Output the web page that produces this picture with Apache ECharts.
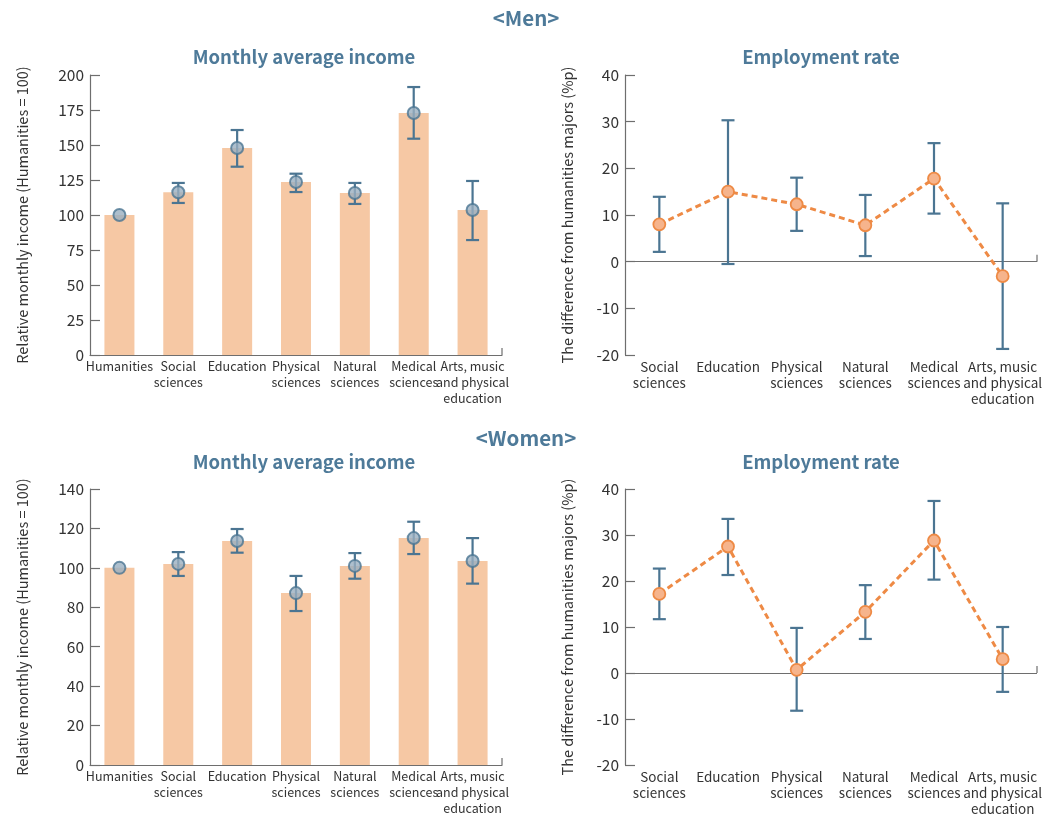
<!DOCTYPE html>
<html><head><meta charset="utf-8">
<script src="https://cdn.jsdelivr.net/npm/echarts@6/dist/echarts.min.js"></script>
<style>html,body{margin:0;padding:0;background:#fff}#c{width:1053px;height:817px}</style>
</head><body><div id="c"></div>
<script>
const incomeCats = ['Humanities','Social\nsciences','Education','Physical\nsciences','Natural\nsciences','Medical\nsciences','Arts, music\nand physical\neducation'];
const empCats = ['Social\nsciences','Education','Physical\nsciences','Natural\nsciences','Medical\nsciences','Arts, music\nand physical\neducation'];
const incomeTicks = {men:{max:200, interval:25}, women:{max:140, interval:20}};

const menIncome = [100,116.2,147.9,123.6,115.7,172.9,103.6];
const menIncomeLow = [null,108.6,134.5,116.4,107.9,154.5,82.1];
const menIncomeHigh = [null,122.9,160.7,129.5,122.9,191.4,124.3];
const menEmp = [8.0,15.0,12.3,7.8,17.8,-3.1];
const menEmpLow = [2.1,-0.5,6.6,1.2,10.3,-18.7];
const menEmpHigh = [13.9,30.3,18.0,14.3,25.4,12.5];

const womenIncome = [100,102,113.6,87.2,101,115.1,103.5];
const womenIncomeLow = [null,95.9,107.7,78.1,94.5,107,92];
const womenIncomeHigh = [null,108,119.7,95.9,107.5,123.4,115.1];
const womenEmp = [17.2,27.5,0.7,13.3,28.8,3.0];
const womenEmpLow = [11.7,21.3,-8.2,7.4,20.3,-4.1];
const womenEmpHigh = [22.7,33.5,9.8,19.1,37.4,10.0];

const FONT = '"Noto Sans CJK KR", "Noto Sans", sans-serif';
const BLUE = '#4b7592';
const TITLE = '#4e7a99';
const BAR = '#f6c8a4';
const ORANGE = '#ee8a45';
const AXIS = '#6e6e6e';

const chart = echarts.init(document.getElementById('c'));

const grids = [
  {left:90, top:75, width:412, height:280},
  {left:625, top:75, width:412, height:280},
  {left:90, top:489, width:412, height:276},
  {left:625, top:489, width:412, height:276}
];

function errData(low, high){
  return low.map((l,i)=> l==null ? null : [i, l, high[i]]).filter(d=>d);
}
function errSeries(xi, low, high){
  return {
    type:'custom', xAxisIndex:xi, yAxisIndex:xi, z:5,
    data: errData(low, high),
    renderItem:(params, api)=>{
      const lo = api.coord([api.value(0), api.value(1)]);
      const hi = api.coord([api.value(0), api.value(2)]);
      const w = 6.5;
      const st = {stroke:BLUE, lineWidth:2.2};
      return {type:'group', children:[
        {type:'line', shape:{x1:lo[0],y1:lo[1],x2:hi[0],y2:hi[1]}, style:st},
        {type:'line', shape:{x1:lo[0]-w,y1:lo[1],x2:lo[0]+w,y2:lo[1]}, style:st},
        {type:'line', shape:{x1:hi[0]-w,y1:hi[1],x2:hi[0]+w,y2:hi[1]}, style:st}
      ]};
    }
  };
}
// small end tick at the right end of the category axis line
function endTick(xi, yVal){
  return {
    type:'custom', xAxisIndex:xi, yAxisIndex:xi, z:3, silent:true,
    data:[[0, yVal]],
    renderItem:(params, api)=>{
      const p = api.coord([0, api.value(1)]);
      const x = params.coordSys.x + params.coordSys.width;
      return {type:'line', shape:{x1:x, y1:p[1], x2:x, y2:p[1]-7}, style:{stroke:AXIS, lineWidth:1.2}};
    }
  };
}

function xIncome(gi){
  return {type:'category', gridIndex:gi, data:incomeCats,
    axisLine:{lineStyle:{color:AXIS, width:1.2}}, axisTick:{show:false},
    axisLabel:{interval:0, color:'#333', fontFamily:FONT, fontSize:12.5, lineHeight:16, margin:3}};
}
function xEmp(gi){
  return {type:'category', gridIndex:gi, data:empCats,
    axisLine:{show:false, onZero:false}, axisTick:{show:false},
    axisLabel:{interval:0, color:'#333', fontFamily:FONT, fontSize:13.5, lineHeight:16, margin:4}};
}
function yAxis(gi, min, max, interval, name, gap){
  return {type:'value', gridIndex:gi, min, max, interval,
    name, nameLocation:'middle', nameGap:gap, nameRotate:90,
    nameTextStyle:{fontFamily:FONT, fontSize:14.5, color:'#333'},
    splitLine:{show:false},
    axisLine:{show:true, onZero:false, lineStyle:{color:AXIS, width:1.2}},
    axisTick:{show:true, inside:true, length:10, lineStyle:{color:AXIS, width:1.2}},
    axisLabel:{color:'#333', fontFamily:FONT, fontSize:15.5, margin:6}};
}

function barSeries(gi, vals){
  return {type:'bar', xAxisIndex:gi, yAxisIndex:gi, data:vals, barWidth:'51%',
    itemStyle:{color:BAR}, z:2, silent:true};
}
function dotSeries(gi, vals){
  return {type:'scatter', xAxisIndex:gi, yAxisIndex:gi, data:vals, symbolSize:12, z:10,
    itemStyle:{color:'#9aafc0', borderColor:BLUE, borderWidth:2}};
}
function empLine(gi, vals){
  return {type:'line', xAxisIndex:gi, yAxisIndex:gi, data:vals, symbol:'circle', symbolSize:12, z:10,
    lineStyle:{color:ORANGE, width:3, type:[6,4]},
    itemStyle:{color:'#f6b48c', borderColor:ORANGE, borderWidth:1.8},
    markLine:{silent:true, symbol:'none', label:{show:false}, z:1,
      lineStyle:{color:AXIS, width:1.2, type:'solid'}, data:[{yAxis:0}]}};
}

const titleStyle = {fontFamily:FONT, fontWeight:'bold', fontSize:18.5, color:TITLE};
const headStyle = {fontFamily:FONT, fontWeight:'bold', fontSize:20.5, color:TITLE};
chart.setOption({
  animation:false,
  title:[
    {text:'<Men>', left:521, top:3, textAlign:'center', textStyle:headStyle},
    {text:'Monthly average income', left:299, top:43, textAlign:'center', textStyle:titleStyle},
    {text:'Employment rate', left:816, top:43, textAlign:'center', textStyle:titleStyle},
    {text:'<Women>', left:521, top:423, textAlign:'center', textStyle:headStyle},
    {text:'Monthly average income', left:299, top:448, textAlign:'center', textStyle:titleStyle},
    {text:'Employment rate', left:816, top:448, textAlign:'center', textStyle:titleStyle}
  ],
  grid:grids,
  xAxis:[xIncome(0), xEmp(1), xIncome(2), xEmp(3)],
  yAxis:[
    yAxis(0, 0, incomeTicks.men.max, incomeTicks.men.interval, 'Relative monthly income (Humanities = 100)', 60),
    yAxis(1, -20, 40, 10, 'The difference from humanities majors (%p)', 50),
    yAxis(2, 0, incomeTicks.women.max, incomeTicks.women.interval, 'Relative monthly income (Humanities = 100)', 60),
    yAxis(3, -20, 40, 10, 'The difference from humanities majors (%p)', 50)
  ],
  series:[
    barSeries(0, menIncome), errSeries(0, menIncomeLow, menIncomeHigh), dotSeries(0, menIncome), endTick(0, 0),
    errSeries(1, menEmpLow, menEmpHigh), empLine(1, menEmp), endTick(1, 0),
    barSeries(2, womenIncome), errSeries(2, womenIncomeLow, womenIncomeHigh), dotSeries(2, womenIncome), endTick(2, 0),
    errSeries(3, womenEmpLow, womenEmpHigh), empLine(3, womenEmp), endTick(3, 0)
  ]
});
</script></body></html>
